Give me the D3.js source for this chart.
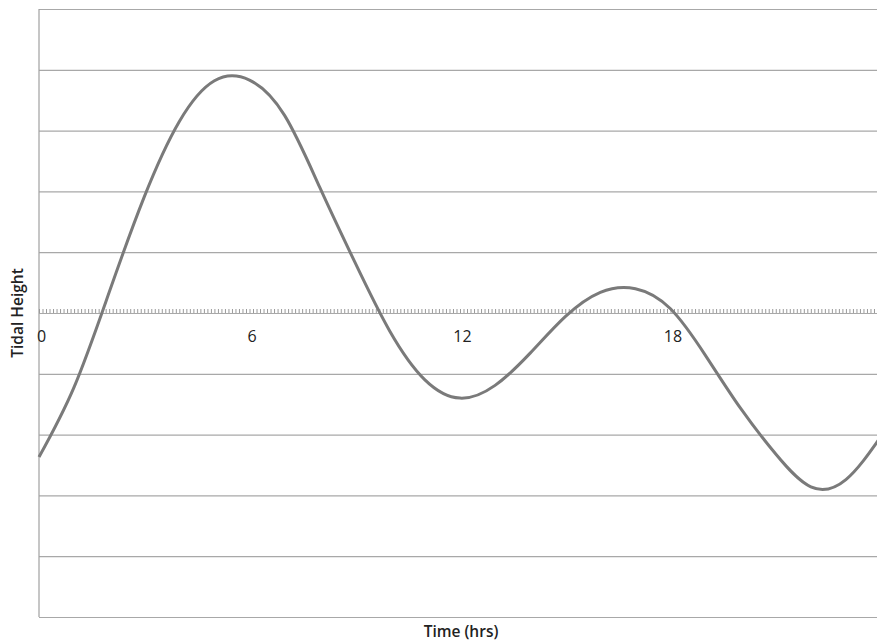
<!DOCTYPE html>
<html>
<head>
<meta charset="utf-8">
<script src="https://cdn.jsdelivr.net/npm/d3@7"></script>
<style>
  body { margin: 0; background: #fff; }
  svg { display: block; }
</style>
</head>
<body>
<svg></svg>
<script>
// dati: altezza di marea ogni ora, da 0 a 24
const hours = d3.range(0, 25);
const tide = [-2.37, -1.22, 0.34, 1.91, 3.15, 3.82, 3.83, 3.25, 2.07, 0.84, -0.3, -1.1, -1.4, -1.19, -0.66, -0.06, 0.34, 0.4, 0.07, -0.7, -1.57, -2.32, -2.86, -2.74, -2.03];
const xLabels = [0, 6, 12, 18];
const gridValues = d3.range(-5, 6, 1);

const width = 877;
const height = 642;

const x = d3.scaleLinear().domain([0, 24]).range([39, 881]);
const y = d3.scaleLinear().domain([-5, 5]).range([617, 9]);

const svg = d3.select("svg")
  .attr("width", width)
  .attr("height", height);

// griglia orizzontale
svg.append("g")
  .attr("transform", `translate(${x(0)},0)`)
  .call(d3.axisLeft(y).tickValues(gridValues).tickSize(-(width - 39)).tickFormat(""))
  .call(g => g.select(".domain").remove())
  .call(g => g.selectAll(".tick line").attr("stroke", "#a8a8a8").attr("stroke-width", 1.2));

// asse verticale a sinistra
svg.append("line")
  .attr("x1", x(0)).attr("x2", x(0))
  .attr("y1", y(5)).attr("y2", y(-5))
  .attr("stroke", "#a0a0a0")
  .attr("stroke-width", 1.2);

// tacche minori sull'asse dello zero
svg.append("g")
  .attr("transform", `translate(0,${y(0)})`)
  .call(d3.axisTop(x).tickValues(d3.range(0, 240).map(i => i / 10)).tickSize(4).tickFormat(""))
  .call(g => g.select(".domain").remove())
  .call(g => g.selectAll(".tick line").attr("stroke", "#9a9a9a").attr("stroke-width", 1));

// etichette ore
svg.append("g")
  .attr("transform", `translate(2,${y(0)})`)
  .call(d3.axisBottom(x).tickValues(xLabels).tickSize(0).tickPadding(18))
  .call(g => g.select(".domain").remove())
  .call(g => g.selectAll("text")
    .attr("fill", "#222")
    .style("font-family", "'Open Sans', sans-serif")
    .style("font-size", "16px"));

// curva della marea
const line = d3.line()
  .x((d, i) => x(hours[i]))
  .y(d => y(d))
  .curve(d3.curveNatural);

svg.append("path")
  .datum(tide)
  .attr("fill", "none")
  .attr("stroke", "#7a7a7a")
  .attr("stroke-width", 3)
  .attr("d", line);

// titoli assi
svg.append("text")
  .attr("transform", `translate(23,${y(0)}) rotate(-90)`)
  .attr("text-anchor", "middle")
  .attr("fill", "#222")
  .style("font-family", "'Open Sans', sans-serif")
  .style("font-size", "15.5px")
  .style("font-weight", "600")
  .text("Tidal Height");

svg.append("text")
  .attr("x", 461)
  .attr("y", 637)
  .attr("text-anchor", "middle")
  .attr("fill", "#222")
  .style("font-family", "'Open Sans', sans-serif")
  .style("font-size", "15.5px")
  .style("font-weight", "600")
  .text("Time (hrs)");
</script>
</body>
</html>
